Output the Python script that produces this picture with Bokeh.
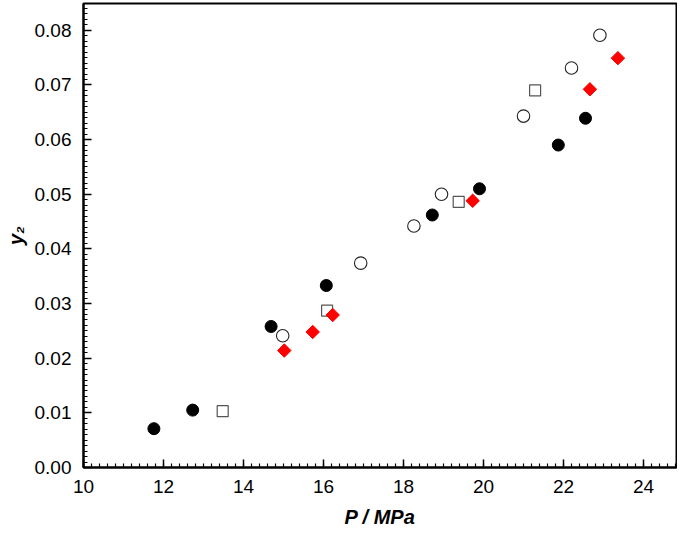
import numpy as np
from bokeh.plotting import figure
from bokeh.models import SingleIntervalTicker, Range1d, PrintfTickFormatter
from bokeh.embed import file_html
from bokeh.resources import INLINE

# data (P / MPa, y2)
p_filled = [11.76, 12.73, 14.69, 16.07, 18.72, 19.90, 21.87, 22.55]
y_filled = [0.0071, 0.0105, 0.0258, 0.0333, 0.0462, 0.0510, 0.0590, 0.0639]
p_open = [14.98, 16.93, 18.26, 18.95, 21.00, 22.20, 22.91]
y_open = [0.0241, 0.0374, 0.0442, 0.0500, 0.0643, 0.0731, 0.0791]
p_square = [13.48, 16.09, 19.38, 21.29]
y_square = [0.0103, 0.0287, 0.0486, 0.0690]
p_diamond = [15.02, 15.73, 16.23, 19.73, 22.66, 23.36]
y_diamond = [0.0214, 0.0248, 0.0279, 0.0488, 0.0692, 0.0749]

FONT = "Liberation Sans"

p = figure(width=677, height=530, output_backend="svg", toolbar_location=None,
           x_range=Range1d(10, 24.825), y_range=Range1d(0, 0.0849),
           min_border_left=83, min_border_right=1, min_border_top=3, min_border_bottom=62)
p.title.visible = False
p.grid.visible = False
p.outline_line_color = "black"
p.outline_line_width = 2
p.background_fill_color = "white"
p.border_fill_color = "white"

p.xaxis.ticker = SingleIntervalTicker(interval=2, num_minor_ticks=10)
p.yaxis.ticker = SingleIntervalTicker(interval=0.01, num_minor_ticks=10)
p.xaxis.formatter = PrintfTickFormatter(format="%d")
p.yaxis.formatter = PrintfTickFormatter(format="%.2f")
for ax in (p.xaxis, p.yaxis):
    ax.axis_line_color = "black"
    ax.axis_line_width = 2
    ax.major_tick_in = 8
    ax.major_tick_out = 0
    ax.minor_tick_in = 4
    ax.minor_tick_out = 0
    ax.major_tick_line_color = "black"
    ax.minor_tick_line_color = "black"
    ax.major_tick_line_width = 1.5
    ax.minor_tick_line_width = 1.2
    ax.major_label_text_font = FONT
    ax.major_label_text_font_size = "19px"
    ax.major_label_text_color = "black"
    ax.axis_label_text_font = FONT
    ax.axis_label_text_font_size = "20px"
    ax.axis_label_text_font_style = "bold italic"
    ax.axis_label_text_color = "black"
p.xaxis.major_label_standoff = 12
p.yaxis.major_label_standoff = 12
p.xaxis.axis_label = "P / MPa"
p.yaxis.axis_label = "y\u2082"
p.xaxis.axis_label_standoff = 10
p.yaxis.axis_label_standoff = 5

p.scatter(p_filled, y_filled, marker="circle", size=12, fill_color="black", line_color="black")
p.scatter(p_open, y_open, marker="circle", size=12.5, fill_color="white", line_color="#222222", line_width=1.1)
p.scatter(p_square, y_square, marker="square", size=11, fill_color="white", line_color="#555555", line_width=1.2)
p.scatter(p_diamond, y_diamond, marker="square", angle=np.pi / 4, size=9.5,
          fill_color="#ff0000", line_color="#ff0000", line_width=1)

open("out.html", "w").write(file_html(p, INLINE))
